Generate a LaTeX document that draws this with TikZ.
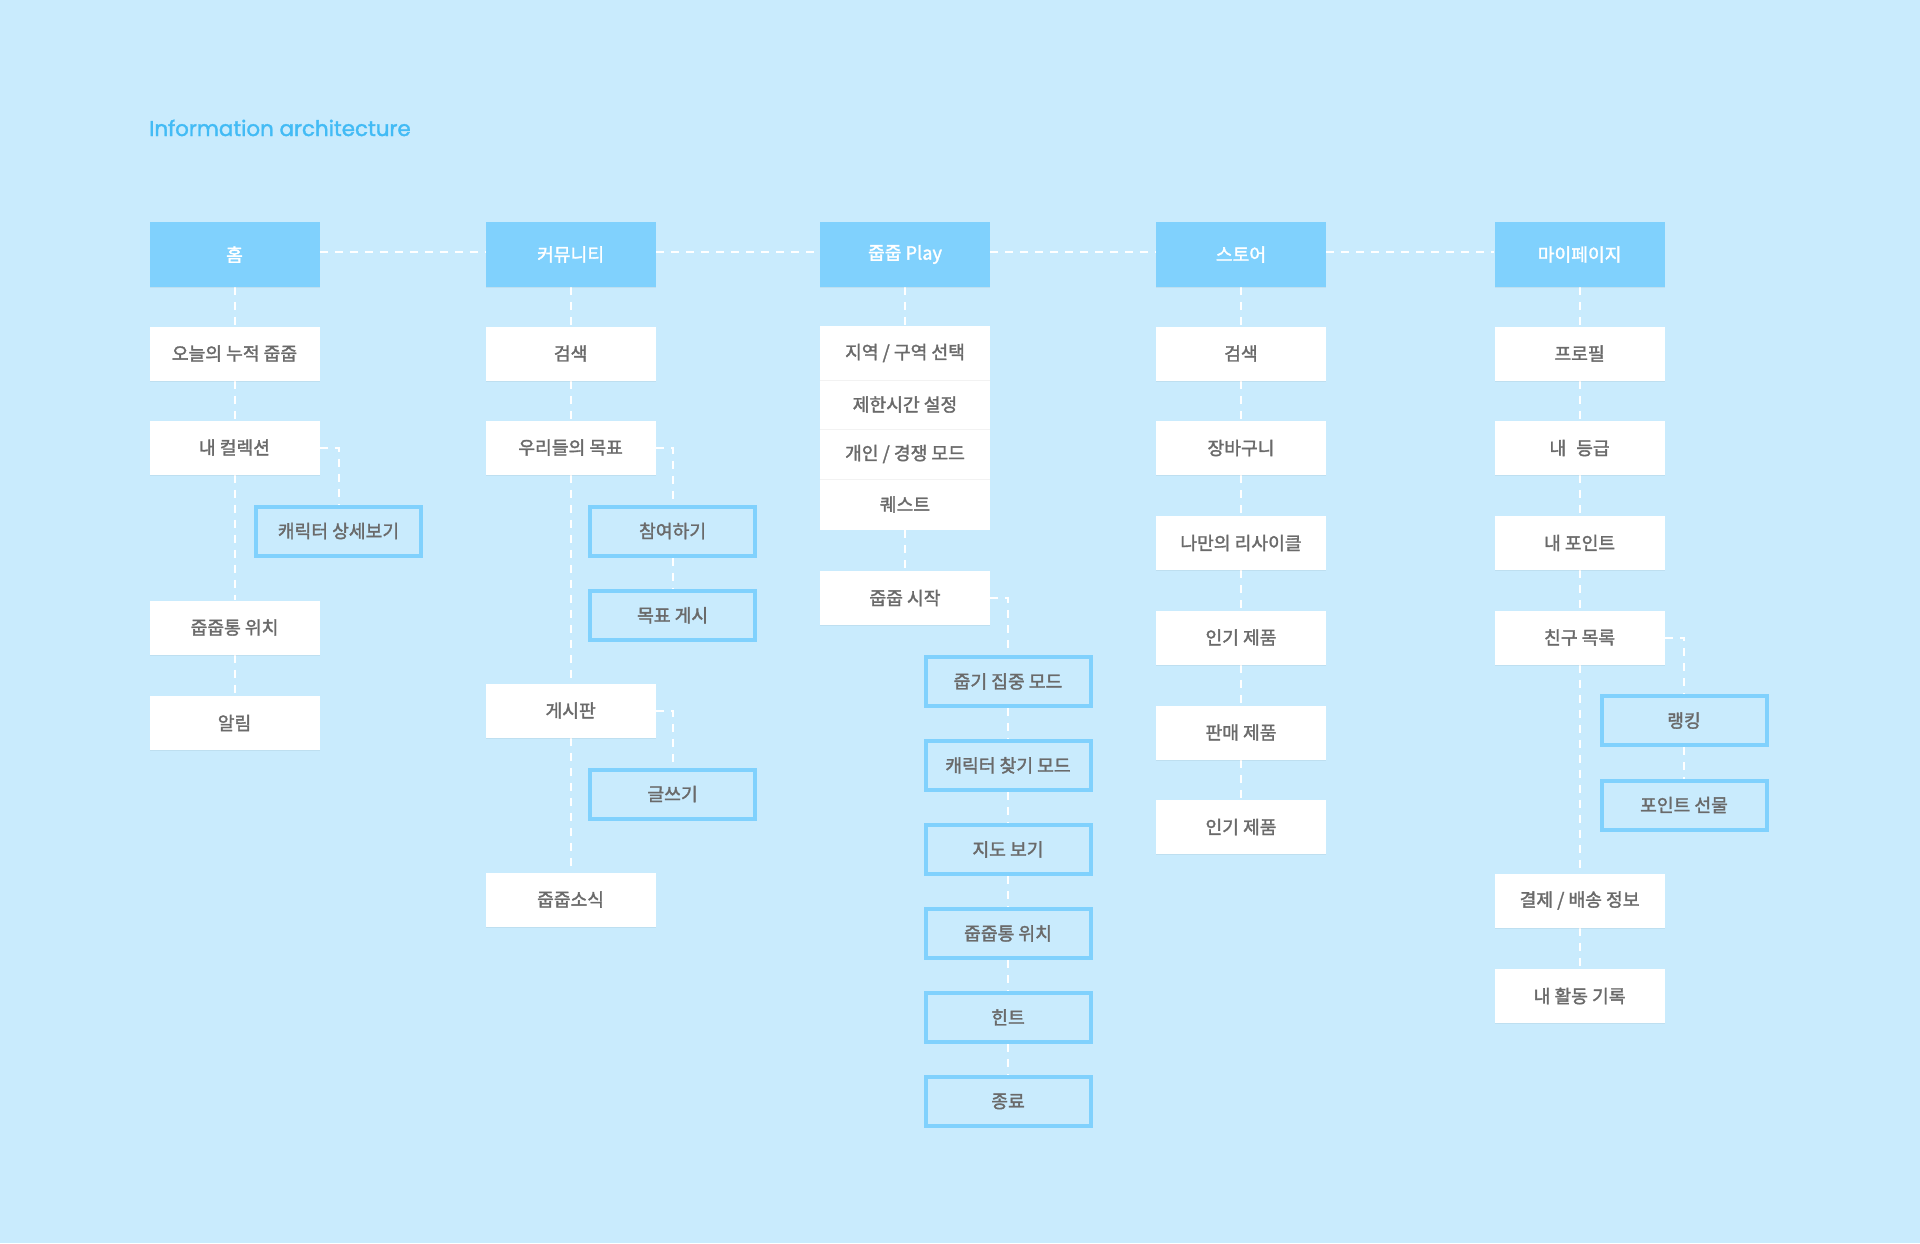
\documentclass[tikz,border=0pt]{standalone}
\usepackage{fontspec}
\usetikzlibrary{shadows}
\setmainfont{Noto Sans CJK KR}
\newfontfamily\krmed[FakeBold=1.8]{Noto Sans CJK KR}
\newfontfamily\titlefont[FakeBold=1.6]{Poppins}
\definecolor{bgc}{HTML}{C9EBFD}
\definecolor{topc}{HTML}{80D1FD}
\definecolor{titlec}{HTML}{42BBF5}
\definecolor{txtc}{HTML}{6A6A6A}
\definecolor{sepc}{HTML}{F2F2F2}
\pgfdeclarelayer{bgfill}
\pgfdeclarelayer{lines}
\pgfsetlayers{bgfill,lines,main}
\tikzset{
  boxfont/.style={font=\krmed\fontsize{18.2}{21}\selectfont},
  softshadow/.style={drop shadow={shadow xshift=0pt, shadow yshift=-1pt, opacity=0.05, fill=black}},
  topbox/.style={fill=topc, softshadow, minimum width=170pt, minimum height=65pt, inner sep=0pt, text=white, boxfont},
  item/.style={fill=white, softshadow, minimum width=170pt, minimum height=54pt, inner sep=0pt, text=txtc, boxfont},
  grp/.style={fill=white, minimum width=170pt, inner sep=0pt, text=txtc, boxfont},
  sub/.style={fill=bgc, draw=topc, line width=4pt, minimum width=165pt, minimum height=49pt, inner sep=0pt, text=txtc, boxfont},
  link/.style={draw=white, line width=2pt, dash pattern=on 8pt off 7pt},
}
\begin{document}
\begin{tikzpicture}[x=1pt,y=-1pt]
\begin{pgfonlayer}{bgfill}
\fill[bgc] (0,0) rectangle (1920,1243);
\end{pgfonlayer}
\useasboundingbox (0,0) rectangle (1920,1243);

\node[anchor=base west, text=titlec, font=\titlefont\fontsize{21.4}{25}\selectfont, inner sep=0pt] (title) at (149,136) {Information architecture};

% top row
\node[topbox] (home) at (234.5,254.5) {홈};
\node[topbox] (comm) at (570.6,254.5) {커뮤니티};
\node[topbox] (play) at (905,254.5) {줍줍 Play};
\node[topbox] (store) at (1241,254.5) {스토어};
\node[topbox] (my) at (1579.6,254.5) {마이페이지};

% column 1
\node[item] (h1) at (234.5,353.5) {오늘의 누적 줍줍};
\node[item] (h2) at (234.5,447.5) {내 컬렉션};
\node[sub]  (h2a) at (338.5,531) {캐릭터 상세보기};
\node[item] (h3) at (234.5,627.5) {줍줍통 위치};
\node[item] (h4) at (234.5,723) {알림};

% column 2
\node[item] (c1) at (570.6,353.5) {검색};
\node[item] (c2) at (570.6,447.5) {우리들의 목표};
\node[sub]  (c2a) at (672.6,531) {참여하기};
\node[sub]  (c2b) at (672.6,615.3) {목표 게시};
\node[item] (c3) at (570.6,710.5) {게시판};
\node[sub]  (c3a) at (672.6,794) {글쓰기};
\node[item] (c4) at (570.6,899.5) {줍줍소식};

% column 3
\node[grp, minimum height=54pt] (p1) at (905,353) {지역 / 구역 선택};
\node[grp, minimum height=49pt] (p2) at (905,404.5) {제한시간 설정};
\node[grp, minimum height=50pt] (p3) at (905,454) {개인 / 경쟁 모드};
\node[grp, minimum height=51pt] (p4) at (905,504.5) {퀘스트};
\draw[sepc, line width=1.2pt] (p1.south west) -- (p1.south east);
\draw[sepc, line width=1.2pt] (p2.south west) -- (p2.south east);
\draw[sepc, line width=1.2pt] (p3.south west) -- (p3.south east);
\node[item] (p5) at (905,598) {줍줍 시작};
\node[sub]  (s1) at (1008,681.4) {줍기 집중 모드};
\node[sub]  (s2) at (1008,765.4) {캐릭터 찾기 모드};
\node[sub]  (s3) at (1008,849.4) {지도 보기};
\node[sub]  (s4) at (1008,933.4) {줍줍통 위치};
\node[sub]  (s5) at (1008,1017.4) {힌트};
\node[sub]  (s6) at (1008,1101.4) {종료};

% column 4
\node[item] (t1) at (1241,353.5) {검색};
\node[item] (t2) at (1241,448) {장바구니};
\node[item] (t3) at (1241,543) {나만의 리사이클};
\node[item] (t4) at (1241,637.5) {인기 제품};
\node[item] (t5) at (1241,732.5) {판매 제품};
\node[item] (t6) at (1241,827) {인기 제품};

% column 5
\node[item] (m1) at (1579.6,353.5) {프로필};
\node[item] (m2) at (1579.6,448) {내\hspace{0.55em}등급};
\node[item] (m3) at (1579.6,543) {내 포인트};
\node[item] (m4) at (1579.6,637.5) {친구 목록};
\node[sub]  (m4a) at (1684,720.6) {랭킹};
\node[sub]  (m4b) at (1684,805) {포인트 선물};
\node[item] (m5) at (1579.6,900.5) {결제 / 배송 정보};
\node[item] (m6) at (1579.6,996) {내 활동 기록};

\begin{pgfonlayer}{lines}
\draw[link] ([yshift=2.5pt]home.east) -- ([yshift=2.5pt]comm.west);
\draw[link] ([yshift=2.5pt]comm.east) -- ([yshift=2.5pt]play.west);
\draw[link] ([yshift=2.5pt]play.east) -- ([yshift=2.5pt]store.west);
\draw[link] ([yshift=2.5pt]store.east) -- ([yshift=2.5pt]my.west);
\draw[link] (home) -- (h1) -- (h2) -- (h3) -- (h4);
\draw[link] (h2.east) -| (h2a.north);
\draw[link] (comm) -- (c1) -- (c2) -- (c3) -- (c4);
\draw[link] (c2.east) -| (c2a.north);
\draw[link] (c2a) -- (c2b);
\draw[link] (c3.east) -| (c3a.north);
\draw[link] (play) -- (p1);
\draw[link] (p4) -- (p5);
\draw[link] (p5.east) -| (s1.north);
\draw[link] (s1) -- (s2) -- (s3) -- (s4) -- (s5) -- (s6);
\draw[link] (store) -- (t1) -- (t2) -- (t3) -- (t4) -- (t5) -- (t6);
\draw[link] (my) -- (m1) -- (m2) -- (m3) -- (m4) -- (m5) -- (m6);
\draw[link] (m4.east) -| (m4a.north);
\draw[link] (m4a) -- (m4b);
\end{pgfonlayer}
\end{tikzpicture}
\end{document}
